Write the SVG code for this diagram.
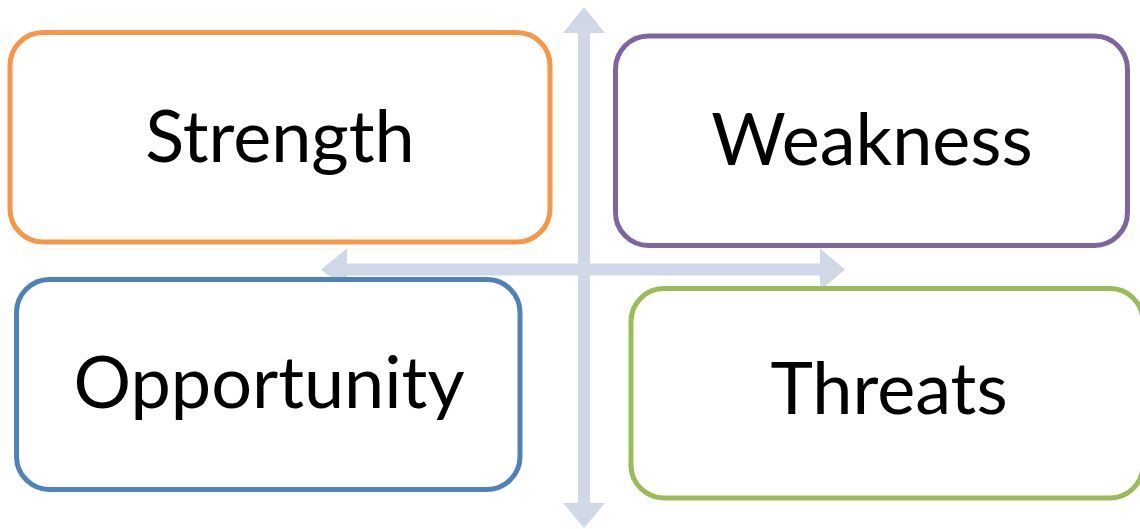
<svg xmlns="http://www.w3.org/2000/svg" width="1140" height="529" viewBox="0 0 1140 529">
<style>
.box{fill:#FFFFFF;stroke-width:5}
.lbl{font-family:Lato,"Liberation Sans",sans-serif;font-size:72px;fill:#000000;text-anchor:middle}
.arr{fill:#D0D8E8}
</style>
<rect width="1140" height="529" fill="#FFFFFF"/>
<g id="connectors">
<polygon class="arr" points="584,7 605,33 590,33 590,503 605,503 584,528 563,503 578,503 578,33 563,33"/>
<polygon class="arr" points="321,269.5 347,248.5 347,263.5 820,263.5 820,248.5 845,269.5 820,290.5 820,275.5 347,275.5 347,290.5"/>
</g>
<g id="strength">
<rect class="box" x="10" y="32.5" width="540" height="209.5" rx="33" stroke="#F79646"/>
<text class="lbl" x="280" y="162">Strength</text>
</g>
<g id="weakness">
<rect class="box" x="615.5" y="36" width="512" height="209.5" rx="33" stroke="#8064A2"/>
<text class="lbl" x="872" y="165">Weakness</text>
</g>
<g id="opportunity">
<rect class="box" x="16.5" y="279.5" width="503.5" height="210" rx="33" stroke="#4F81BD"/>
<text class="lbl" x="269" y="408">Opportunity</text>
</g>
<g id="threats">
<rect class="box" x="631" y="288.5" width="512" height="209.5" rx="33" stroke="#9BBB59"/>
<text class="lbl" x="889" y="414">Threats</text>
</g>
</svg>
